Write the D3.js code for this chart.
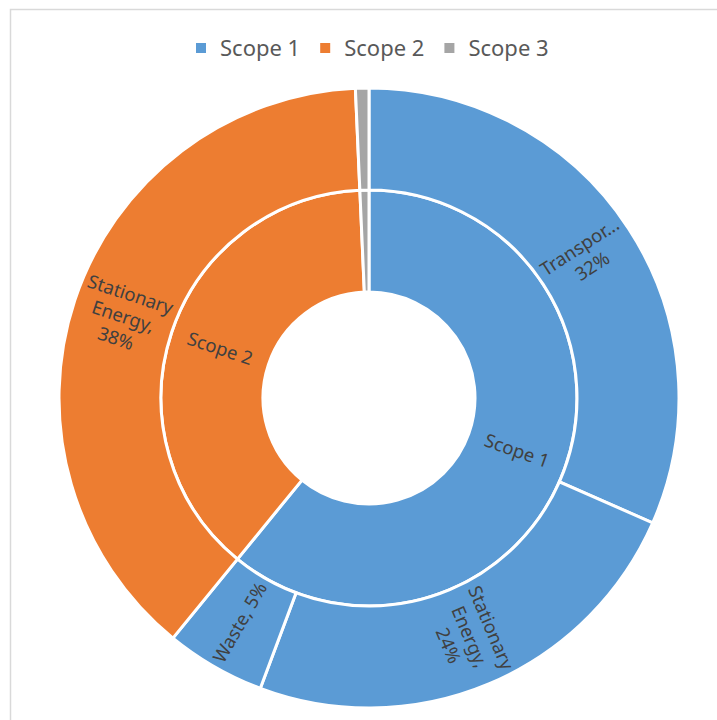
<!DOCTYPE html>
<html>
<head>
<meta charset="utf-8">
<script src="https://cdn.jsdelivr.net/npm/d3@7"></script>
<style>
  body { margin: 0; background: #fff; }
  svg { font-family: "Noto Sans", "Open Sans", sans-serif; }
</style>
</head>
<body>
<script>
var width = 717, height = 720;

// inner ring: scopes
var scopes = ["Scope 1", "Scope 2", "Scope 3"];
var scopeColors = ["#5B9BD5", "#ED7D31", "#A5A5A5"];

// outer ring: sectors, which scope they belong to, share in %
var sectors = ["Transportation", "Stationary Energy", "Waste", "Stationary Energy", "Other"];
var sectorScope = ["Scope 1", "Scope 1", "Scope 1", "Scope 2", "Scope 3"];
var sectorValues = [31.6, 24.1, 5.2, 38.4, 0.7];
// labels as shown in the chart (lines), empty = no label
var sectorLabels = [["Transpor...", "32%"], ["Stationary", "Energy,", "24%"], ["Waste, 5%"], ["Stationary", "Energy,", "38%"], []];

var scopeValues = scopes.map(function (s) {
    return d3.sum(sectorValues.filter(function (v, i) { return sectorScope[i] == s; }));
});
var scopeLabels = [["Scope 1"], ["Scope 2"], []];

var cx = 369, cy = 398;
var rHole = 106, rMid = 208, rOuter = 310;

var color = d3.scaleOrdinal().domain(scopes).range(scopeColors);

var svg = d3.select("body").append("svg").attr("width", width).attr("height", height);

// chart frame
svg.append("rect")
    .attr("x", 10.5).attr("y", 9.5)
    .attr("width", width + 20).attr("height", height + 20)
    .attr("fill", "none").attr("stroke", "#d9d9d9").attr("stroke-width", 1.5);

var pie = d3.pie().sort(null).value(function (d) { return d; });
var innerArcs = pie(scopeValues);
var outerArcs = pie(sectorValues);

var innerArc = d3.arc().innerRadius(rHole).outerRadius(rMid);
var outerArc = d3.arc().innerRadius(rMid).outerRadius(rOuter);

var g = svg.append("g").attr("transform", "translate(" + cx + "," + cy + ")");

g.selectAll("path.inner").data(innerArcs).enter().append("path")
    .attr("class", "inner")
    .attr("d", innerArc)
    .attr("fill", function (d, i) { return color(scopes[i]); })
    .attr("stroke", "#fff").attr("stroke-width", 3);

g.selectAll("path.outer").data(outerArcs).enter().append("path")
    .attr("class", "outer")
    .attr("d", outerArc)
    .attr("fill", function (d, i) { return color(sectorScope[i]); })
    .attr("stroke", "#fff").attr("stroke-width", 3);

// radial labels
function addLabels(arcs, labels, r, fs) {
    arcs.forEach(function (d, i) {
        var lines = labels[i];
        if (!lines.length) return;
        var a = (d.startAngle + d.endAngle) / 2;
        var deg = a * 180 / Math.PI;
        var rot = deg - 90;
        if (deg > 180) rot -= 180;
        var x = Math.sin(a) * r, y = -Math.cos(a) * r;
        var lh = fs * 1.25;
        var t = g.append("text")
            .attr("transform", "translate(" + x + "," + y + ") rotate(" + rot + ")")
            .attr("text-anchor", "middle")
            .attr("fill", "#404040")
            .attr("font-size", fs);
        lines.forEach(function (l, k) {
            t.append("tspan")
                .attr("x", 0)
                .attr("y", (k - (lines.length - 1) / 2) * lh)
                .attr("dy", "0.35em")
                .text(l);
        });
    });
}
addLabels(outerArcs, sectorLabels, 259, 18.5);
addLabels(innerArcs, scopeLabels, 157, 18.5);

// legend
var legend = svg.append("g").attr("class", "legend");
var lx = 196;
scopes.forEach(function (s, i) {
    legend.append("rect")
        .attr("x", lx).attr("y", 43)
        .attr("width", 10).attr("height", 10)
        .attr("fill", scopeColors[i]);
    var t = legend.append("text")
        .attr("x", lx + 24).attr("y", 48)
        .attr("dy", "0.35em")
        .attr("font-size", 22)
        .attr("fill", "#595959")
        .text(s);
    lx = lx + 24 + t.node().getComputedTextLength() + 20;
});
</script>
</body>
</html>
